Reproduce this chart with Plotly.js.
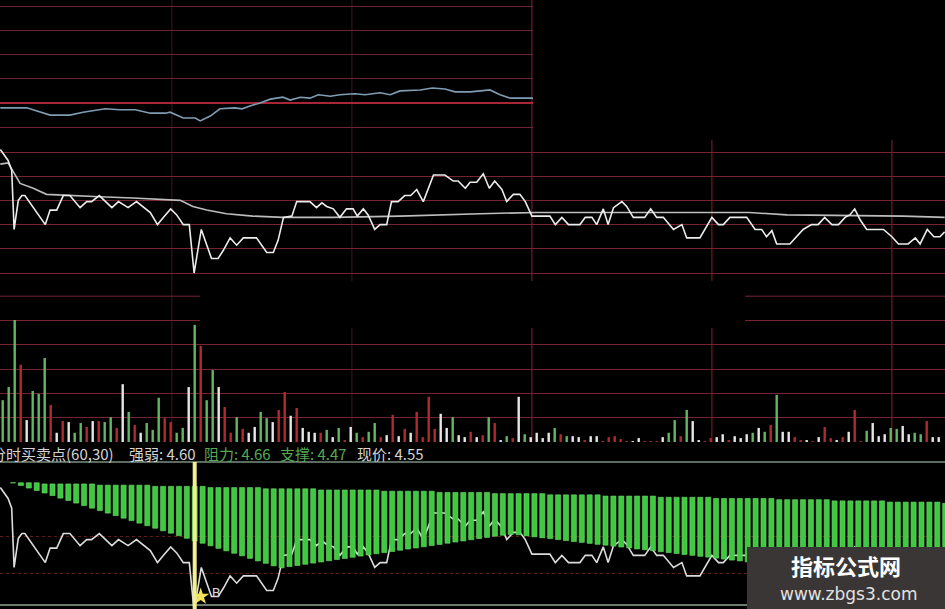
<!DOCTYPE html>
<html>
<head>
<meta charset="utf-8">
<script src="https://cdn.plot.ly/plotly-3.0.1.min.js"></script>
<style>
html,body{margin:0;padding:0;background:#000;}
#chart{width:945px;height:609px;}
</style>
</head>
<body>
<div id="chart"></div>
<script>
// ---------- DATA ----------
// upper mini chart: index line, % change vs previous close
const indexTime = [-0.4,4.0,7.9,11.2,13.4,17.1,19.5,22.1,24.6,27.1,27.9,30.1,32.1,32.9,34.6,36.2,38.7,39.9,41.2,42.9,44.6,46.7,47.9,49.6,51.2,52.6,54.6,56.2,58.7,60.4,62.9,64.6,66.2,68.2,69.6,71.6,73.7,75.4,77.9,79.6,81.2,82.9,84.6,88.4];
const indexPct = [-0.10,-0.10,-0.25,-0.25,-0.19,-0.12,-0.14,-0.14,-0.21,-0.21,-0.19,-0.31,-0.31,-0.37,-0.27,-0.12,-0.10,-0.12,-0.06,0.00,0.08,0.12,0.06,0.12,0.10,0.17,0.14,0.17,0.19,0.17,0.21,0.17,0.25,0.27,0.27,0.31,0.29,0.23,0.23,0.25,0.27,0.17,0.10,0.10];

// intraday price (minutes from open)
const priceTime = [-0.4,0.9,1.5,1.9,2.6,3.2,3.7,5.7,7.1,7.9,9.0,10.1,11.2,12.9,14.0,14.8,16.1,18.2,19.3,20.9,22.3,24.6,25.8,26.8,28.0,29.0,30.1,31.1,31.5,31.9,33.1,33.7,34.8,35.9,36.8,37.9,39.0,40.1,42.3,44.0,45.1,45.9,46.8,48.2,49.0,51.2,52.3,53.2,54.0,55.1,56.2,57.3,58.4,59.1,60.1,60.9,62.0,62.9,64.0,64.8,65.9,67.0,68.0,69.0,70.1,71.8,73.7,75.1,75.9,77.1,77.9,79.0,80.1,81.1,82.0,83.2,84.0,85.1,86.2,87.1,88.2,91.2,92.1,93.2,94.3,96.2,97.1,98.2,99.0,100.1,100.9,101.8,103.2,104.0,105.1,107.0,108.0,109.0,110.1,111.8,113.2,114.0,116.2,118.2,119.3,120.1,121.2,124.0,125.4,126.5,127.3,128.2,129.0,131.2,133.4,134.8,135.9,137.0,138.2,139.3,140.4,141.2,142.0,142.9,144.0,146.8,148.2,149.3,150.9,152.1,152.9,154.1,155.2,156.2,157.0];
const price = [4.622,4.613,4.605,4.556,4.580,4.584,4.584,4.570,4.560,4.572,4.572,4.584,4.584,4.574,4.579,4.579,4.584,4.574,4.579,4.574,4.579,4.570,4.560,4.566,4.573,4.568,4.560,4.560,4.541,4.520,4.556,4.547,4.532,4.532,4.539,4.549,4.543,4.549,4.549,4.537,4.537,4.547,4.566,4.567,4.579,4.579,4.574,4.578,4.575,4.573,4.566,4.573,4.573,4.567,4.573,4.568,4.556,4.560,4.560,4.579,4.579,4.584,4.584,4.589,4.579,4.601,4.601,4.596,4.596,4.590,4.595,4.595,4.602,4.590,4.596,4.589,4.579,4.585,4.585,4.579,4.567,4.567,4.560,4.566,4.560,4.560,4.566,4.566,4.560,4.573,4.560,4.574,4.579,4.575,4.566,4.566,4.573,4.566,4.566,4.556,4.560,4.549,4.549,4.566,4.560,4.560,4.566,4.566,4.556,4.556,4.550,4.555,4.544,4.544,4.556,4.560,4.560,4.566,4.560,4.560,4.566,4.568,4.573,4.564,4.556,4.556,4.550,4.544,4.544,4.549,4.544,4.556,4.550,4.550,4.554];

// average price line
const avgTime = [-0.4,0.9,2.9,5.1,7.3,10.7,16.2,21.7,29.6,31.7,34.0,37.3,41.7,46.7,55.1,66.2,71.7,79.6,89.0,116.7,124.5,130.7,150.1,157.0];
const avgPrice = [4.610,4.611,4.594,4.590,4.585,4.584,4.583,4.582,4.580,4.575,4.572,4.569,4.567,4.566,4.566,4.567,4.568,4.569,4.570,4.570,4.570,4.568,4.567,4.566];

// per-minute volume (lots) and bar colour: g = down, r = up, w = flat
const volume = [860,1130,2510,1590,450,1050,990,1730,760,190,
430,410,190,390,310,430,430,410,510,290,
1190,620,350,190,390,250,910,490,410,190,
290,1130,2410,1980,860,1480,1130,720,190,510,
270,190,310,620,490,410,660,1030,540,700,
290,210,190,190,250,100,290,40,310,190,
100,210,390,100,140,560,120,270,190,620,
100,930,270,580,290,510,140,100,210,100,
140,510,390,40,120,80,930,160,100,190,
80,190,290,160,120,120,100,40,120,120,
20,100,120,60,20,20,80,20,20,20,
100,190,450,120,660,430,40,20,80,100,
160,40,120,80,160,190,290,210,350,970,
210,210,100,40,40,20,100,310,80,40,
100,210,660,20,230,390,120,160,290,270,
330,160,190,160,430,100,100];
const volumeDir = ['g','g','g','r','w','g','g','g','r','w',
'r','w','g','g','r','w','r','g','g','r',
'w','g','r','w','g','g','g','r','r','g',
'g','w','g','r','g','g','w','r','r','g',
'r','w','w','g','g','w','r','r','w','r',
'w','w','w','r','g','w','g','r','w','g',
'r','g','g','r','w','r','w','r','w','r',
'r','r','r','w','w','g','w','w','r','w',
'r','g','r','w','g','r','w','g','w','w',
'w','w','g','r','g','w','w','r','w','w',
'r','r','r','r','r','w','w','r','r','r',
'w','g','g','r','g','w','w','r','r','w',
'w','r','w','w','w','g','w','g','r','g',
'w','w','r','r','w','r','w','r','r','w',
'r','w','r','r','g','w','w','w','g','g',
'w','w','g','g','r','w','w'];

// indicator band (分时买卖点): upper and lower edge of each green stick
const bandUpper = [4.626,4.626,4.626,4.626,
4.625,4.625,4.625,4.625,4.625,4.625,4.625,
4.624,4.624,4.624,4.624,4.624,4.624,4.624,
4.623,4.623,4.623,4.623,4.623,4.623,4.623,
4.622,4.622,4.622,4.622,4.622,4.622,4.622,
4.621,4.621,4.621,4.621,4.621,4.621,4.621,
4.620,4.620,4.620,4.620,4.620,4.620,4.620,4.620,
4.619,4.619,4.619,4.619,4.619,4.619,4.619,
4.618,4.618,4.618,4.618,4.618,4.618,4.618,
4.617,4.617,4.617,4.617,4.617,4.617,4.617,
4.616,4.616,4.616,4.616,4.616,4.616,4.616,
4.615,4.615,4.615,4.615,4.615,4.615,4.615,
4.614,4.614,4.614,4.614,4.614,4.614,4.614,
4.613,4.613,4.613,4.613,4.613,4.613,4.613,4.613,
4.612,4.612,4.612,4.612,4.612,4.612,4.612,
4.611,4.611,4.611,4.611,4.611,4.611,4.611,
4.610,4.610,4.610,4.610,4.610,4.610,4.610,
4.609];
const bandLower = [4.6258,4.6237,4.6216,4.6196,4.6175,4.6154,4.6133,4.6113,4.6092,4.6071,
4.6050,4.6030,4.6009,4.5988,4.5967,4.5947,4.5926,4.5905,4.5884,4.5863,
4.5843,4.5822,4.5801,4.5780,4.5760,4.5739,4.5718,4.5697,4.5677,4.5656,
4.5635,4.5614,4.5594,4.5573,4.5557,4.5567,4.5576,4.5586,4.5596,4.5605,
4.5615,4.5625,4.5634,4.5644,4.5654,4.5663,4.5673,4.5683,4.5692,4.5702,
4.5712,4.5721,4.5731,4.5741,4.5750,4.5760,4.5770,4.5779,4.5789,4.5799,
4.5808,4.5818,4.5826,4.5833,4.5830,4.5821,4.5813,4.5805,4.5798,4.5790,
4.5782,4.5774,4.5767,4.5759,4.5751,4.5744,4.5736,4.5729,4.5721,4.5713,
4.5706,4.5698,4.5690,4.5683,4.5675,4.5667,4.5660,4.5652,4.5645,4.5637,
4.5629,4.5621,4.5614,4.5606,4.5598,4.5591,4.5583,4.5575,4.5568,4.5560,
4.5553,4.5545,4.5537,4.5530,4.5522,4.5514,4.5507,4.5499,4.5492,4.5484,
4.5476,4.5469,4.5461,4.5453,4.5446,4.5438,4.5430,4.5423,4.5415];

// buy signal
const signalTime = 32;
const starTime = 33, starPrice = 4.532;
const signalLabel = 'B', labelTime = 35.6, labelPrice = 4.534;

// indicator caption
const captionName = '分时买卖点(60,30)';
const captionLabels = ['强弱','阻力','支撑','现价'];
const captionValues = [4.60, 4.66, 4.47, 4.55];

// watermark
const wmTitle = '指标公式网';
const wmUrl = 'www.zbgs3.com';

// ---------- STYLE ----------
const RED = '#772430', RED_DIM = '#3e161b', RED_V = '#86202e';
const dirColor = {g:'#62b862', r:'#b02a2e', w:'#e6e6e6'};
const H = 609, W = 945;
const py = v => 1 - v / H;      // pixel row -> paper y
const px = v => v / W;          // pixel col -> paper x

const traces = [
  {type:'scatter', mode:'lines', x:indexTime, y:indexPct, xaxis:'x2', yaxis:'y',
   line:{color:'#7f9db2', width:1.6}, hoverinfo:'skip'},
  {type:'scatter', mode:'lines', x:avgTime, y:avgPrice, xaxis:'x', yaxis:'y2',
   line:{color:'#bdbdbd', width:1.6}, hoverinfo:'skip'},
  {type:'scatter', mode:'lines', x:priceTime, y:price, xaxis:'x', yaxis:'y2',
   line:{color:'#ececec', width:1.6}, hoverinfo:'skip'},
  {type:'bar', x0:0, dx:1, y:volume, xaxis:'x', yaxis:'y3', width:0.4,
   marker:{color:volumeDir.map(d => dirColor[d]), line:{width:0}}, hoverinfo:'skip'},
  {type:'bar', x0:0, dx:1, base:bandLower, y:bandUpper.map((u,i) => u - bandLower[i]),
   xaxis:'x5', yaxis:'y4', width:0.64,
   marker:{color:'#3fc93f', line:{color:'#6fdc6f', width:0.6}}, hoverinfo:'skip'},
  {type:'scatter', mode:'lines', x:priceTime, y:price, xaxis:'x4', yaxis:'y4',
   line:{color:'#dcdcdc', width:1.6}, hoverinfo:'skip'},
  {type:'scatter', mode:'markers', x:[starTime], y:[starPrice], xaxis:'x4', yaxis:'y4',
   marker:{symbol:'star', size:13, color:'#f3e25a'}, hoverinfo:'skip'},
  {type:'scatter', mode:'text', x:[labelTime], y:[labelPrice], text:[signalLabel], xaxis:'x4', yaxis:'y4',
   textfont:{color:'#d8d8d8', size:13, family:'DejaVu Sans'}, hoverinfo:'skip'}
];

const base = {showticklabels:false, ticks:'', zeroline:false, showline:false, fixedrange:true};
const xRange = [-0.45, 157.05];

// vertical grid (every 30 minutes)
const vGrid = [
  {t:28.2, c:RED_DIM, seg:[[442,0]]},
  {t:58.2, c:RED_DIM, seg:[[281,0],[442,328]]},
  {t:88.2, c:RED_V,   seg:[[281,0],[442,328]]},
  {t:118.2,c:RED_V,   seg:[[281,140],[442,328]]},
  {t:148.2,c:RED_V,   seg:[[442,140]]}
];
const shapes = [];
vGrid.forEach(g => g.seg.forEach(s => shapes.push({type:'line', xref:'x', yref:'paper',
  x0:g.t, x1:g.t, y0:py(s[0]), y1:py(s[1]), line:{color:g.c, width:1}, layer:'below'})));
// upper volume grid lines interrupted in the middle
[2500, 3000].forEach(v => {
  shapes.push({type:'line', xref:'paper', yref:'y3', x0:0, x1:px(200), y0:v, y1:v, line:{color:RED, width:1}, layer:'below'});
  shapes.push({type:'line', xref:'paper', yref:'y3', x0:px(745), x1:1, y0:v, y1:v, line:{color:RED, width:1}, layer:'below'});
});
// indicator frame lines
shapes.push({type:'line', xref:'paper', yref:'paper', x0:0, x1:1, y0:py(462), y1:py(462), line:{color:'#5a6c5e', width:2}, layer:'below'});
shapes.push({type:'line', xref:'paper', yref:'paper', x0:0, x1:1, y0:py(605), y1:py(605), line:{color:'#6c7c6e', width:2}, layer:'below'});
// buy signal line
shapes.push({type:'line', xref:'x4', yref:'y4 domain', x0:signalTime, x1:signalTime, y0:0, y1:1,
  line:{color:'#f2f08e', width:4}, layer:'above'});
// watermark box
shapes.push({type:'rect', xref:'paper', yref:'paper', x0:px(747), x1:1, y0:0, y1:py(547),
  fillcolor:'#3b3636', line:{width:0}, layer:'above'});

const grey = '#d4d4d4', green = '#55a955';
const captionFont = c => ({family:'Noto Sans CJK SC', size:15, color:c});
const captionY = py(453);
const captionParts = [
  {left:-11, text:captionName, color:grey},
  {left:127, text:captionLabels[0] + ': ' + captionValues[0].toFixed(2), color:grey},
  {left:202, text:captionLabels[1] + ': ' + captionValues[1].toFixed(2), color:green},
  {left:278, text:captionLabels[2] + ': ' + captionValues[2].toFixed(2), color:green},
  {left:355, text:captionLabels[3] + ': ' + captionValues[3].toFixed(2), color:grey}
];

const annotations = captionParts.map(p => ({xref:'paper', yref:'paper', x:px(p.left), y:captionY,
  xanchor:'left', yanchor:'middle', showarrow:false, text:p.text, font:captionFont(p.color)}));
annotations.push(
  {xref:'paper', yref:'paper', x:px(846), y:py(565), xanchor:'center', yanchor:'middle', showarrow:false,
   text:'<b>' + wmTitle + '</b>', font:{family:'Noto Sans CJK SC', size:22, color:'#ffffff'}},
  {xref:'paper', yref:'paper', x:px(848), y:py(594), xanchor:'center', yanchor:'middle', showarrow:false,
   text:wmUrl, font:{family:'DejaVu Sans', size:17, color:'#e2e2e2'}}
);

const layout = {
  width:W, height:H, margin:{l:0,r:0,t:0,b:0,pad:0},
  paper_bgcolor:'#000', plot_bgcolor:'#000', showlegend:false, barmode:'overlay',
  xaxis: Object.assign({}, base, {domain:[0,1], range:xRange, anchor:'y2', showgrid:false}),
  xaxis2: Object.assign({}, base, {domain:[0, px(533)], range:[-0.45, 88.38], anchor:'y', showgrid:false}),
  xaxis4: Object.assign({}, base, {domain:[0,1], range:xRange, anchor:'y4', showgrid:false}),
  xaxis5: Object.assign({}, base, {domain:[0,1], range:[-1.6456, 117.975], anchor:'y4', overlaying:'x4', showgrid:false}),
  yaxis: Object.assign({}, base, {domain:[py(140), 1], range:[-0.7645, 2.1281], anchor:'x2',
    showgrid:true, gridcolor:'#6c2530', gridwidth:1, tick0:0, dtick:0.5,
    zeroline:true, zerolinecolor:'#a82636', zerolinewidth:2.5}),
  yaxis2: Object.assign({}, base, {domain:[py(285), py(140)], range:[4.51008, 4.62992], anchor:'x',
    showgrid:true, gridcolor:RED, gridwidth:1, tick0:4.52, dtick:0.02}),
  yaxis3: Object.assign({}, base, {domain:[py(442), py(285)], range:[0, 3230.5], anchor:'x',
    showgrid:true, gridcolor:RED, gridwidth:1, tickmode:'array', tickvals:[500,1000,1500,2000]}),
  yaxis4: Object.assign({}, base, {domain:[0, py(462)], range:[4.52165, 4.64314], anchor:'x4',
    showgrid:true, gridcolor:'#5e1c1c', gridwidth:1, griddash:'dot', tickmode:'array', tickvals:[4.5812, 4.5506]}),
  shapes:shapes,
  annotations:annotations
};

Plotly.newPlot('chart', traces, layout, {staticPlot:true, displayModeBar:false});
</script>
</body>
</html>
